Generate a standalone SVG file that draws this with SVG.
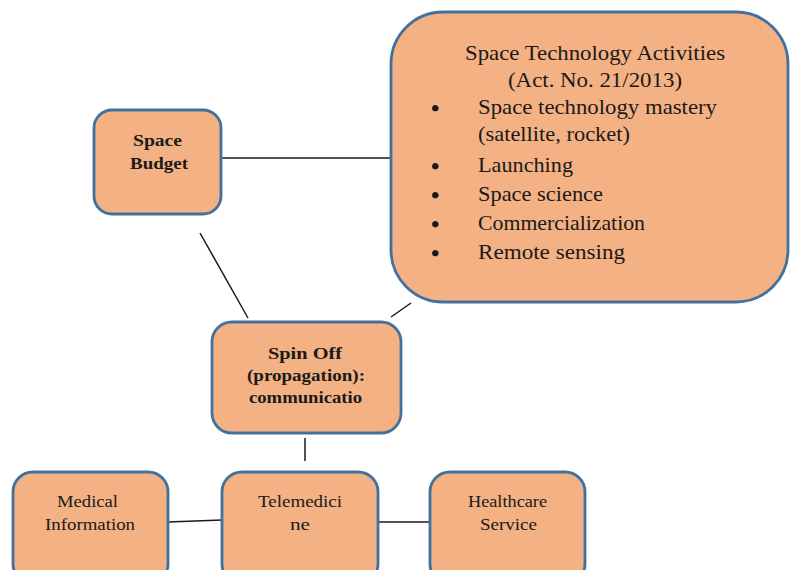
<svg xmlns="http://www.w3.org/2000/svg" width="790" height="570" viewBox="0 0 790 570">
  <style>
    .box { fill: #F4B183; stroke: #41719C; stroke-width: 2.8; }
    .link { stroke: #1a1a1a; stroke-width: 1.5; fill: none; }
    .serif { font-family: "Liberation Serif", "Times New Roman", serif; fill: #1a1a1a; }
    .bold { font-family: "Liberation Serif", "Times New Roman", serif; font-weight: bold; fill: #1a1a1a; }
    .big { font-size: 21px; }
    .mid { font-size: 17px; }
    .sm { font-size: 16px; }
    .dot { font-size: 24px; font-weight: bold; }
  </style>
  <rect width="790" height="570" fill="#ffffff"/>

  <!-- connectors -->
  <g id="connectors">
    <line class="link" x1="221" y1="158" x2="391" y2="158"/>
    <line class="link" x1="200" y1="233" x2="248" y2="318"/>
    <line class="link" x1="391" y1="317" x2="411" y2="303"/>
    <line class="link" x1="305" y1="438" x2="305" y2="461"/>
    <line class="link" x1="168" y1="522" x2="222" y2="520"/>
    <line class="link" x1="378" y1="522" x2="430" y2="522"/>
  </g>

  <g id="space-technology">
    <rect class="box" x="391" y="12" width="397" height="290" rx="52" ry="52"/>
    <text class="serif big" x="465" y="60" textLength="260" lengthAdjust="spacingAndGlyphs">Space Technology Activities</text>
    <text class="serif big" x="508" y="87" textLength="174" lengthAdjust="spacingAndGlyphs">(Act. No. 21/2013)</text>
    <g class="serif big">
      <text class="dot" x="431" y="116">•</text><text x="478" y="114" textLength="239" lengthAdjust="spacingAndGlyphs">Space technology mastery</text>
      <text x="478" y="141" textLength="152" lengthAdjust="spacingAndGlyphs">(satellite, rocket)</text>
      <text class="dot" x="431" y="174">•</text><text x="478" y="172" textLength="95" lengthAdjust="spacingAndGlyphs">Launching</text>
      <text class="dot" x="431" y="203">•</text><text x="478" y="201" textLength="125" lengthAdjust="spacingAndGlyphs">Space science</text>
      <text class="dot" x="431" y="232">•</text><text x="478" y="230" textLength="167" lengthAdjust="spacingAndGlyphs">Commercialization</text>
      <text class="dot" x="431" y="261">•</text><text x="478" y="259" textLength="147" lengthAdjust="spacingAndGlyphs">Remote sensing</text>
    </g>
  </g>

  <g id="space-budget">
    <rect class="box" x="94" y="110" width="127" height="104" rx="18" ry="18"/>
    <text class="bold mid" x="133" y="146" textLength="49" lengthAdjust="spacingAndGlyphs">Space</text>
    <text class="bold mid" x="130" y="169" textLength="58" lengthAdjust="spacingAndGlyphs">Budget</text>
  </g>

  <g id="spin-off">
    <rect class="box" x="212" y="322" width="189" height="111" rx="20" ry="20"/>
    <text class="bold mid" x="268" y="359" textLength="74" lengthAdjust="spacingAndGlyphs">Spin Off</text>
    <text class="bold mid" x="247" y="381" textLength="118" lengthAdjust="spacingAndGlyphs">(propagation):</text>
    <text class="bold mid" x="249" y="403" textLength="113" lengthAdjust="spacingAndGlyphs">communicatio</text>
  </g>

  <g id="medical-information">
    <rect class="box" x="13" y="472" width="155" height="112" rx="20" ry="20"/>
    <text class="serif sm" x="57" y="507" textLength="61" lengthAdjust="spacingAndGlyphs">Medical</text>
    <text class="serif sm" x="45" y="530" textLength="90" lengthAdjust="spacingAndGlyphs">Information</text>
  </g>

  <g id="telemedicine">
    <rect class="box" x="222" y="472" width="156" height="112" rx="20" ry="20"/>
    <text class="serif sm" x="258" y="507" textLength="84" lengthAdjust="spacingAndGlyphs">Telemedici</text>
    <text class="serif sm" x="290" y="530" textLength="20" lengthAdjust="spacingAndGlyphs">ne</text>
  </g>

  <g id="healthcare-service">
    <rect class="box" x="430" y="472" width="155" height="112" rx="20" ry="20"/>
    <text class="serif sm" x="468" y="507" textLength="79" lengthAdjust="spacingAndGlyphs">Healthcare</text>
    <text class="serif sm" x="480" y="530" textLength="57" lengthAdjust="spacingAndGlyphs">Service</text>
  </g>
</svg>
